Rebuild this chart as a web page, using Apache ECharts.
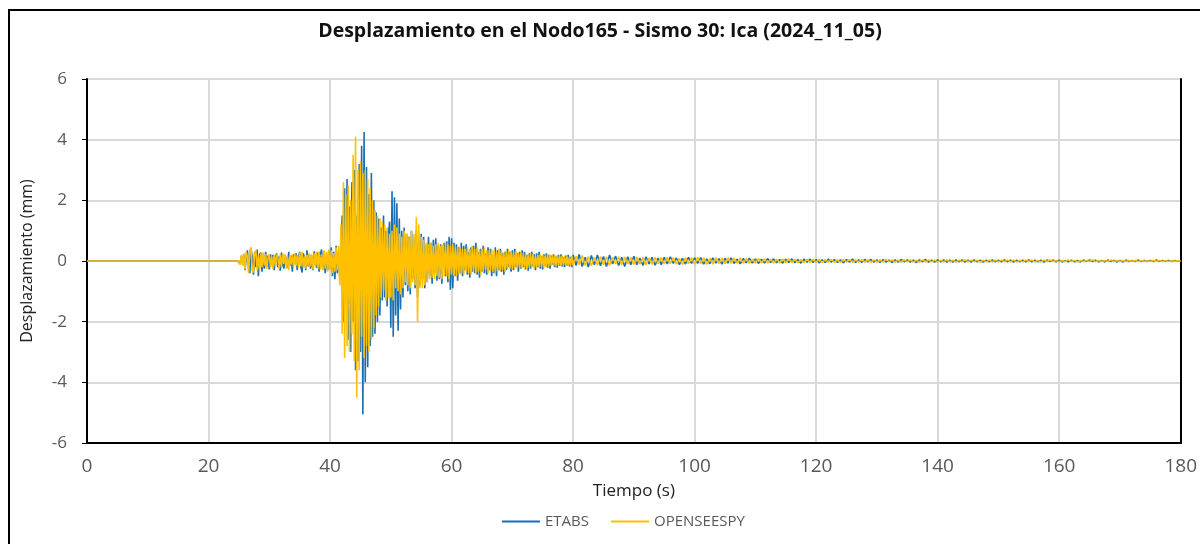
<!DOCTYPE html>
<html>
<head>
<meta charset="utf-8">
<script src="https://cdn.jsdelivr.net/npm/echarts@6/dist/echarts.min.js"></script>
<style>html,body{margin:0;padding:0;background:#fff;}#c{width:1200px;height:544px;}</style>
</head>
<body>
<div id="c"></div>
<script>
// ---- Data ----
const title = 'Desplazamiento en el Nodo165 - Sismo 30: Ica (2024_11_05)';
const xTicks = [0, 20, 40, 60, 80, 100, 120, 140, 160, 180];
const yTicks = [-6, -4, -2, 0, 2, 4, 6];
const seriesNames = ['ETABS', 'OPENSEESPY'];

// Sampling grid (seconds): quiet start, 25–79.8 s every 0.2 s, 80–180 s every 0.5 s
const quietTimes = [0, 24.8];
const segFine = {start: 25, step: 0.2, count: 275};
const segTail = {start: 80, step: 0.5, count: 201};

const etabsQuiet = [0, 0];
const etabsFine = [
  0.04,-0.1,0.15,-0.08,0.22,
  -0.3,0.12,0.35,-0.25,-0.4,
  0.42,0.1,-0.45,0.3,-0.2,
  0.38,-0.5,0.2,0.28,-0.35,
  0.15,-0.25,0.3,-0.1,0.18,
  -0.28,0.22,-0.05,0.2,-0.3,
  0.1,0.25,-0.2,0.15,-0.32,
  0.28,-0.12,-0.25,0.2,0.05,
  -0.22,0.3,-0.15,0.18,-0.35,
  0.22,-0.08,0.26,-0.3,0.12,
  0.3,-0.2,-0.38,0.25,0.1,
  -0.3,0.35,-0.18,0.22,-0.25,
  0.15,-0.3,0.32,-0.1,-0.22,
  0.28,-0.35,0.2,0.38,-0.28,
  0.3,-0.4,0.12,-0.3,0.35,
  -0.25,0.45,-0.5,0.3,-0.6,
  0.5,-0.4,0.3,-0.55,0.2,
  1.5,-2.0,2.4,-1.2,2.7,
  -2.6,1.8,-3.0,2.6,-2.0,
  3.0,-3.6,1.5,-3.3,3.2,
  -3.0,3.8,-5.05,4.25,-4.0,
  3.1,-3.5,2.2,-2.8,2.9,
  -2.5,2.0,-2.4,1.6,-2.0,
  1.4,-1.8,1.1,-1.3,1.5,
  -1.2,1.0,-1.5,0.8,1.3,
  -2.2,2.3,-2.5,2.1,-1.8,
  1.9,-2.3,1.4,-1.6,1.0,
  -1.2,1.1,-0.8,0.9,-1.0,
  0.8,-1.1,1.0,-0.6,0.7,
  -0.9,1.0,-1.2,0.7,-0.8,
  0.9,-0.6,0.8,-0.9,0.5,
  -0.7,0.8,-0.5,0.6,-0.75,
  0.7,-0.4,0.75,-0.65,0.5,
  -0.6,0.55,-0.75,0.4,0.6,
  -0.5,0.65,-0.7,0.8,-0.95,
  0.75,-0.9,0.6,-0.5,0.55,
  -0.65,0.45,-0.4,0.6,-0.5,
  0.5,-0.3,0.55,-0.45,0.3,
  -0.55,0.45,-0.35,0.5,-0.4,
  0.6,-0.45,0.3,-0.55,0.4,
  -0.35,0.5,-0.4,0.25,-0.45,
  0.45,-0.3,0.4,-0.5,0.2,
  -0.4,0.45,-0.5,0.35,-0.3,
  0.4,-0.35,0.25,-0.45,0.3,
  -0.3,0.4,-0.2,0.3,-0.35,
  0.35,-0.3,0.4,-0.2,0.25,
  -0.35,0.3,-0.25,0.35,-0.2,
  0.3,-0.28,0.2,-0.32,0.25,
  -0.25,0.3,-0.18,0.22,-0.3,
  0.25,-0.2,0.3,-0.25,0.15,
  -0.28,0.22,-0.15,0.25,-0.22,
  0.2,-0.25,0.18,-0.12,0.22,
  -0.2,0.15,-0.22,0.2,-0.15,
  0.22,-0.18,0.12,-0.2,0.18,
  -0.15,0.2,-0.18,0.14,-0.2
];
const etabsTail = [
  0.2,-0.15,0.22,-0.18,0.12,-0.2,0.18,-0.12,0.2,-0.16,
  0.15,-0.18,0.2,-0.1,0.16,-0.15,0.12,-0.18,0.14,-0.12,
  0.16,-0.12,0.1,-0.15,0.14,-0.1,0.12,-0.14,0.1,-0.12,
  0.12,-0.1,0.14,-0.08,0.1,-0.12,0.09,-0.1,0.12,-0.08,
  0.1,-0.08,0.11,-0.1,0.07,-0.09,0.1,-0.07,0.08,-0.1,
  0.09,-0.07,0.1,-0.08,0.06,-0.09,0.08,-0.06,0.09,-0.07,
  0.07,-0.08,0.06,-0.07,0.08,-0.05,0.07,-0.06,0.05,-0.07,
  0.06,-0.05,0.07,-0.06,0.05,-0.07,0.06,-0.04,0.06,-0.05,
  0.05,-0.06,0.04,-0.05,0.06,-0.04,0.05,-0.05,0.04,-0.06,
  0.05,-0.04,0.06,-0.05,0.04,-0.05,0.05,-0.03,0.05,-0.04,
  0.04,-0.05,0.05,-0.04,0.03,-0.05,0.04,-0.04,0.05,-0.03,
  0.04,-0.04,0.03,-0.05,0.04,-0.03,0.05,-0.04,0.03,-0.04,
  0.04,-0.03,0.04,-0.04,0.03,-0.04,0.04,-0.03,0.04,-0.04,
  0.03,-0.04,0.04,-0.03,0.03,-0.04,0.03,-0.03,0.04,-0.03,
  0.03,-0.03,0.04,-0.03,0.03,-0.04,0.03,-0.03,0.03,-0.03,
  0.04,-0.03,0.03,-0.03,0.03,-0.04,0.03,-0.02,0.03,-0.03,
  0.03,-0.03,0.02,-0.03,0.03,-0.03,0.02,-0.03,0.03,-0.02,
  0.03,-0.02,0.03,-0.03,0.02,-0.03,0.03,-0.02,0.02,-0.03,
  0.02,-0.03,0.03,-0.02,0.02,-0.02,0.03,-0.02,0.02,-0.02,
  0.02,-0.02,0.03,-0.02,0.02,-0.02,0.02,-0.02,0.02,-0.01,
  0.0
];

const opsQuiet = [0, 0];
const opsFine = [
  0.06,-0.12,0.2,-0.15,0.25,
  -0.28,0.3,0.15,-0.4,0.35,
  0.45,-0.3,-0.38,0.25,0.35,
  -0.3,0.2,-0.32,0.25,-0.2,
  0.28,-0.15,0.22,-0.25,0.1,
  0.22,-0.2,0.15,-0.25,0.2,
  -0.18,0.22,0.1,-0.25,0.2,
  -0.2,0.25,-0.1,0.22,-0.25,
  0.15,-0.3,0.2,-0.12,0.22,
  -0.2,0.25,-0.15,0.2,-0.22,
  0.28,-0.18,0.3,-0.22,0.15,
  -0.25,0.2,-0.15,0.25,-0.18,
  0.22,-0.28,0.25,-0.2,0.3,
  -0.25,0.32,-0.28,0.22,-0.3,
  0.35,-0.25,0.3,-0.35,0.38,
  -0.3,0.35,-0.4,0.25,-0.35,
  0.45,-0.3,0.5,-0.8,1.2,
  -2.4,2.6,-3.2,2.2,-2.8,
  2.5,-3.0,2.0,-2.4,3.5,
  -3.3,4.1,-4.5,3.0,-3.6,
  3.3,-2.5,2.9,-3.2,3.0,
  -2.8,2.7,-3.0,2.4,-2.6,
  2.0,-2.2,1.7,-1.8,1.5,
  -1.5,1.4,-1.2,1.3,-1.0,
  1.2,-1.3,1.1,-1.2,0.9,
  -1.2,1.0,-1.3,1.2,-0.9,
  1.1,-1.0,0.9,-1.1,0.8,
  -0.9,1.0,-0.7,0.9,-0.8,
  0.8,-0.9,1.0,-0.7,0.9,
  -0.8,1.45,-2.0,1.2,-0.9,
  0.8,-0.9,0.7,-0.8,0.6,
  -0.7,0.55,-0.6,0.6,-0.55,
  0.5,-0.6,0.55,-0.5,0.6,
  -0.55,0.5,-0.6,0.55,-0.5,
  0.6,-0.5,0.55,-0.6,0.5,
  -0.45,0.55,-0.5,0.45,-0.5,
  0.5,-0.4,0.45,-0.45,0.4,
  -0.45,0.4,-0.35,0.45,-0.4,
  0.4,-0.45,0.5,-0.35,0.4,
  -0.4,0.45,-0.35,0.4,-0.45,
  0.4,-0.35,0.45,-0.3,0.35,
  -0.4,0.35,-0.3,0.4,-0.35,
  0.35,-0.4,0.3,-0.35,0.4,
  -0.3,0.35,-0.3,0.28,-0.35,
  0.3,-0.28,0.35,-0.25,0.3,
  -0.28,0.3,-0.25,0.32,-0.22,
  0.28,-0.25,0.3,-0.22,0.25,
  -0.25,0.22,-0.28,0.2,-0.22,
  0.25,-0.2,0.22,-0.25,0.18,
  -0.22,0.2,-0.18,0.22,-0.2,
  0.2,-0.22,0.18,-0.2,0.22,
  -0.18,0.2,-0.15,0.22,-0.18,
  0.18,-0.16,0.2,-0.15,0.17,
  -0.16,0.18,-0.14,0.17,-0.15,
  0.15,-0.17,0.14,-0.15,0.16
];
const opsTail = [
  -0.15,0.16,-0.12,0.18,-0.14,0.15,-0.16,0.12,-0.14,0.15,
  -0.12,0.14,-0.15,0.12,-0.1,0.14,-0.12,0.13,-0.1,0.12,
  -0.11,0.13,-0.1,0.12,-0.12,0.1,-0.11,0.12,-0.09,0.11,
  -0.1,0.12,-0.09,0.11,-0.1,0.09,-0.11,0.1,-0.09,0.1,
  -0.1,0.12,-0.09,0.1,-0.11,0.09,-0.1,0.11,-0.08,0.1,
  -0.09,0.1,-0.08,0.09,-0.08,0.1,-0.07,0.08,-0.08,0.07,
  -0.07,0.08,-0.06,0.07,-0.07,0.06,-0.07,0.06,-0.06,0.07,
  -0.06,0.07,-0.05,0.06,-0.06,0.05,-0.06,0.05,-0.05,0.06,
  -0.05,0.06,-0.05,0.05,-0.04,0.05,-0.05,0.04,-0.05,0.05,
  -0.04,0.05,-0.05,0.04,-0.04,0.05,-0.04,0.04,-0.05,0.04,
  -0.04,0.04,-0.04,0.05,-0.03,0.04,-0.04,0.03,-0.04,0.04,
  -0.03,0.04,-0.04,0.03,-0.04,0.04,-0.03,0.04,-0.03,0.03,
  -0.04,0.03,-0.03,0.04,-0.03,0.03,-0.04,0.03,-0.03,0.04,
  -0.03,0.03,-0.03,0.03,-0.04,0.03,-0.03,0.03,-0.03,0.03,
  -0.03,0.03,-0.02,0.03,-0.03,0.03,-0.03,0.02,-0.03,0.03,
  -0.02,0.03,-0.03,0.02,-0.03,0.03,-0.02,0.03,-0.02,0.02,
  -0.03,0.02,-0.02,0.03,-0.02,0.02,-0.03,0.02,-0.02,0.02,
  -0.02,0.03,-0.02,0.02,-0.02,0.02,-0.02,0.03,-0.02,0.02,
  -0.02,0.02,-0.02,0.02,-0.01,0.02,-0.02,0.02,-0.02,0.01,
  -0.02,0.02,-0.01,0.02,-0.02,0.01,-0.02,0.01,-0.01,0.01,
  0.0
];

// ---- Build [time, value] pairs ----
function segTimes(s) { const t = []; for (let i = 0; i < s.count; i++) t.push(+(s.start + i * s.step).toFixed(2)); return t; }
const times = quietTimes.concat(segTimes(segFine), segTimes(segTail));
function pairs(vals) { return vals.map((v, i) => [times[i], v]); }
const etabs = pairs(etabsQuiet.concat(etabsFine, etabsTail));
const ops = pairs(opsQuiet.concat(opsFine, opsTail));

const chart = echarts.init(document.getElementById('c'), null, {renderer: 'canvas'});
const sans = '"Open Sans", sans-serif';
chart.setOption({
  animation: false,
  backgroundColor: '#ffffff',
  title: {
    text: title, left: 'center', top: 16,
    textStyle: {fontFamily: sans, fontSize: 19.5, fontWeight: 'bold', color: '#111'}
  },
  legend: {
    bottom: 10, left: 497, itemWidth: 38, itemHeight: 2, itemGap: 22,
    icon: 'rect',
    textStyle: {fontFamily: sans, fontSize: 15, color: '#595959'},
    data: seriesNames
  },
  grid: {left: 87, right: 16, top: 79, bottom: 101},
  xAxis: {
    type: 'value', min: 0, max: 180, interval: 20,
    name: 'Tiempo (s)', nameLocation: 'middle', nameGap: 40,
    nameTextStyle: {fontFamily: sans, fontSize: 17, color: '#222'},
    axisLine: {show: true, onZero: false, lineStyle: {color: '#000', width: 2}},
    axisTick: {show: false},
    axisLabel: {margin: 14, fontFamily: sans, fontSize: 19, color: '#595959',
      formatter: v => xTicks.includes(v) ? String(v) : ''},
    splitLine: {show: true, lineStyle: {color: '#d9d9d9', width: 2}}
  },
  yAxis: [{
    type: 'value', min: -6, max: 6, interval: 2,
    name: 'Desplazamiento (mm)', nameLocation: 'middle', nameGap: 52,
    nameTextStyle: {fontFamily: sans, fontSize: 16, color: '#222'},
    axisLine: {show: true, lineStyle: {color: '#000', width: 2}},
    axisTick: {show: true, length: 5, lineStyle: {color: '#000', width: 1}},
    axisLabel: {margin: 20, fontFamily: sans, fontSize: 17, color: '#595959',
      formatter: v => yTicks.includes(v) ? String(v) : ''},
    splitLine: {show: true, lineStyle: {color: '#d9d9d9', width: 2}}
  }, {
    type: 'value', min: -6, max: 6, interval: 2, position: 'right',
    axisLine: {show: true, lineStyle: {color: '#000', width: 2}},
    axisTick: {show: false}, axisLabel: {show: false}, splitLine: {show: false}
  }],
  graphic: [{
    type: 'rect', silent: true, z: -1,
    shape: {x: 9, y: 10, width: 1400, height: 800},
    style: {fill: 'none', stroke: '#000', lineWidth: 2}
  }],
  series: [{
    name: seriesNames[0], type: 'line', data: etabs, showSymbol: false, sampling: null,
    lineStyle: {color: '#1B6FB3', width: 1.6}, itemStyle: {color: '#1B6FB3'}, z: 2
  }, {
    name: seriesNames[1], type: 'line', data: ops, showSymbol: false,
    lineStyle: {color: '#FFC000', width: 1.6}, itemStyle: {color: '#FFC000'}, z: 3
  }]
});
</script>
</body>
</html>
